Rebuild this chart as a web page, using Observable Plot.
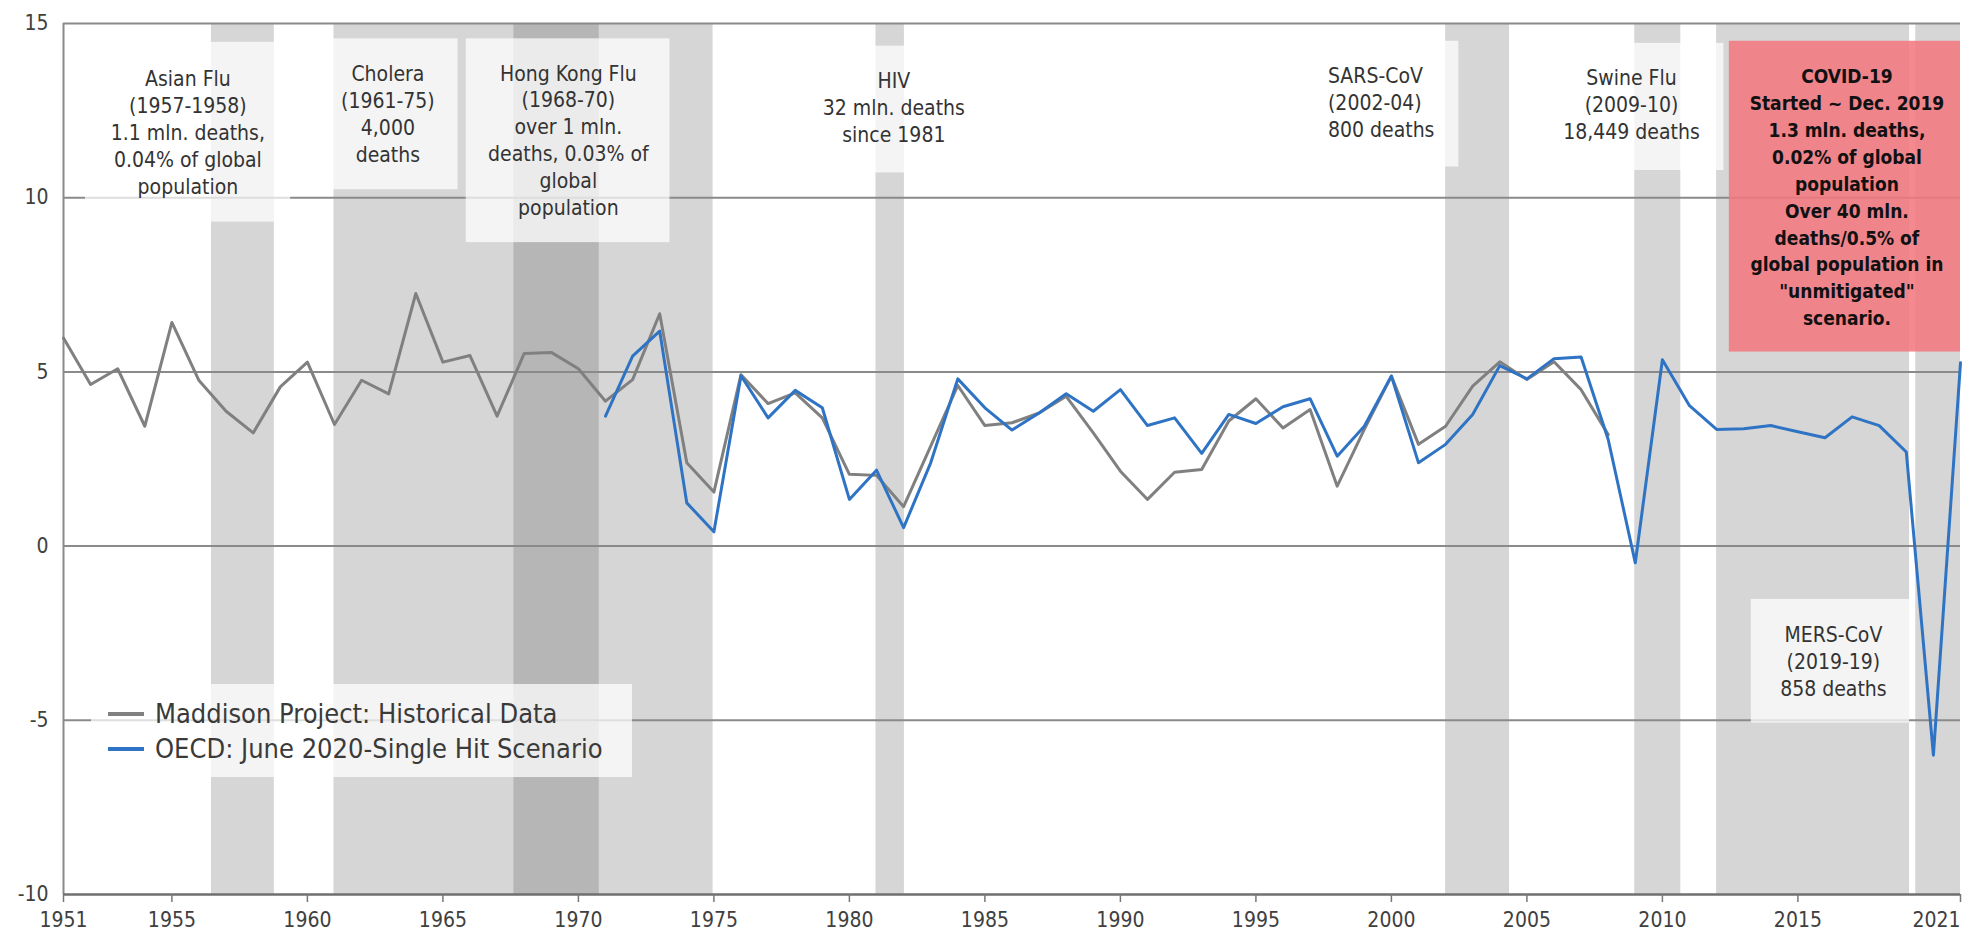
<!DOCTYPE html>
<html>
<head>
<meta charset="utf-8">
<script src="https://cdn.jsdelivr.net/npm/d3@7"></script>
<script src="https://cdn.jsdelivr.net/npm/@observablehq/plot@0.6"></script>
<style>
  html, body { margin: 0; padding: 0; background: #fff; }
  #wrap { position: relative; width: 1962px; height: 933px; font-family: "DejaVu Sans Condensed", "DejaVu Sans", sans-serif; font-stretch: condensed; }
  #legend { position: absolute; left: 91px; top: 684px; width: 541px; height: 93px; background: rgba(255,255,255,0.72); }
  .item { position: absolute; left: 17px; height: 35px; display: flex; align-items: center; font-size: 27px; color: #3a3a3a; white-space: nowrap; }
  .sw { width: 36px; height: 4px; margin-right: 11px; }
</style>
</head>
<body>
<div id="wrap">
  <div id="chart"></div>
  <div id="legend">
    <div class="item" style="top:12px"><span class="sw" style="background:#808080"></span>Maddison Project: Historical Data</div>
    <div class="item" style="top:47px"><span class="sw" style="background:#2f74c4"></span>OECD: June 2020-Single Hit Scenario</div>
  </div>
</div>
<script>
// ---- Data ----
const maddisonStart = 1951;
const maddisonValues = [
  5.97, 4.64, 5.09, 3.44, 6.42, 4.75, 3.87, 3.25, 4.57, 5.28,
  3.49, 4.76, 4.37, 7.25, 5.28, 5.47, 3.73, 5.53, 5.56, 5.09,
  4.16, 4.78, 6.67, 2.39, 1.55, 4.92, 4.09, 4.40, 3.68, 2.06,
  2.03, 1.13, 2.87, 4.61, 3.46, 3.54, 3.82, 4.30, 3.25, 2.15,
  1.34, 2.12, 2.20, 3.59, 4.23, 3.39, 3.92, 1.72, 3.35, 4.88,
  2.92, 3.44, 4.59, 5.29, 4.78, 5.29, 4.49, 3.20
];
const oecdStart = 1971;
const oecdValues = [
  3.73, 5.45, 6.17, 1.24, 0.41, 4.89, 3.68, 4.47, 3.97, 1.34,
  2.18, 0.53, 2.39, 4.80, 3.97, 3.33, 3.82, 4.37, 3.87, 4.49,
  3.46, 3.68, 2.66, 3.78, 3.52, 4.00, 4.23, 2.58, 3.44, 4.88,
  2.39, 2.92, 3.78, 5.18, 4.80, 5.38, 5.43, 3.06, -0.48, 5.35,
  4.03, 3.35, 3.37, 3.46, 3.28, 3.11, 3.71, 3.46, 2.70, -6.00,
  5.26
];
// pandemic shading periods (years)
const bandNames  = ["Asian Flu", "Cholera", "HIV", "SARS-CoV", "Swine Flu", "MERS-CoV", "COVID-19"];
const bandStarts = [1956.46, 1960.98, 1980.98, 2002.0, 2008.98, 2012.0, 2019.35];
const bandEnds   = [1958.78, 1974.97, 1982.03, 2004.36, 2010.68, 2019.12, 2021];
const hkStart = [1967.62];
const hkEnd   = [1970.77];
const yTicks = [-10, -5, 0, 5, 10, 15];
const xTicks = [1951, 1955, 1960, 1965, 1970, 1975, 1980, 1985, 1990, 1995, 2000, 2005, 2010, 2015];
const xLastTick = [2021];
const gridValues = [15, 10, 5, 0, -5];

// annotation label boxes
const boxX1 = [1951.81, 1960.4, 1965.86, 1979.3, 1997.0, 2005.47, 2013.28];
const boxX2 = [1959.38, 1965.56, 1973.38, 1984.0, 2002.49, 2012.27, 2019.12];
const boxY1 = [9.30, 10.23, 8.71, 10.71, 10.88, 10.78, -5.08];
const boxY2 = [14.46, 14.56, 14.56, 14.35, 14.49, 14.43, -1.53];
const covidBox = [{x1: 2012.47, x2: 2021, y1: 5.57, y2: 14.49}];

const labelTexts = [
  "Asian Flu\n(1957-1958)\n1.1 mln. deaths,\n0.04% of global\npopulation",
  "Cholera\n(1961-75)\n4,000\ndeaths",
  "Hong Kong Flu\n(1968-70)\nover 1 mln.\ndeaths, 0.03% of\nglobal\npopulation",
  "HIV\n32 mln. deaths\nsince 1981",
  "Swine Flu\n(2009-10)\n18,449 deaths",
  "MERS-CoV\n(2019-19)\n858 deaths"
];
const labelX = [1955.59, 1962.97, 1969.63, 1981.64, 2008.86, 2016.31];
const labelY = [11.91, 12.44, 11.68, 12.62, 12.70, -3.28];
const sarsLabel = [{x: 1997.66, y: 12.76, text: "SARS-CoV\n(2002-04)\n800 deaths"}];
const covidLabel = [{x: 2016.81, y: 10.06, text: "COVID-19\nStarted ~ Dec. 2019\n1.3 mln. deaths,\n0.02% of global\npopulation\nOver 40 mln.\ndeaths/0.5% of\nglobal population in\n\"unmitigated\"\nscenario."}];

// ---- Build tables ----
const maddison = maddisonValues.map((v, i) => ({year: maddisonStart + i, value: v}));
const oecd = oecdValues.map((v, i) => ({year: oecdStart + i, value: v}));
const bands = bandNames.map((n, i) => ({name: n, start: bandStarts[i], end: bandEnds[i]}));
const hk = hkStart.map((s, i) => ({start: s, end: hkEnd[i]}));
const boxes = boxX1.map((x, i) => ({x1: x, x2: boxX2[i], y1: boxY1[i], y2: boxY2[i]}));
const labels = labelTexts.map((t, i) => ({x: labelX[i], y: labelY[i], text: t}));

const FONT = '"DejaVu Sans Condensed", "DejaVu Sans", sans-serif';

const chart = Plot.plot({
  width: 1962,
  height: 933,
  marginLeft: 63,
  marginRight: 2,
  marginTop: 23,
  marginBottom: 39,
  x: {domain: [1951, 2021], label: null},
  y: {domain: [-10, 15], label: null},
  style: {fontFamily: FONT, fontStretch: "condensed", fontSize: "21px", color: "#404040", background: "#fff", overflow: "visible"},
  marks: [
    Plot.rect(bands, {x1: "start", x2: "end", fill: "#d6d6d6"}),
    Plot.rect(hk, {x1: "start", x2: "end", fill: "#b6b6b6"}),
    Plot.ruleY(gridValues, {stroke: "#8a8a8a", strokeWidth: 2}),
    Plot.ruleX([1951], {stroke: "#8a8a8a", strokeWidth: 2}),
    Plot.rect(boxes, {x1: "x1", x2: "x2", y1: "y1", y2: "y2", fill: "#fff", fillOpacity: 0.72}),
    Plot.rect(covidBox, {x1: "x1", x2: "x2", y1: "y1", y2: "y2", fill: "rgb(242,120,127)", fillOpacity: 0.87}),
    Plot.line(maddison, {x: "year", y: "value", stroke: "#808080", strokeWidth: 3}),
    Plot.line(oecd, {x: "year", y: "value", stroke: "#2f74c4", strokeWidth: 3}),
    Plot.text(labels, {x: "x", y: "y", text: "text", fontSize: 21, lineHeight: 1.28, fill: "#333", textAnchor: "middle", lineAnchor: "middle"}),
    Plot.text(sarsLabel, {x: "x", y: "y", text: "text", fontSize: 21, lineHeight: 1.28, fill: "#333", textAnchor: "start", lineAnchor: "middle"}),
    Plot.text(covidLabel, {x: "x", y: "y", text: "text", fontSize: 19, fontWeight: "bold", lineHeight: 1.415, fill: "#111", textAnchor: "middle", lineAnchor: "middle"}),
    Plot.ruleY([-10], {stroke: "#6f6f6f", strokeWidth: 2.5}),
    Plot.axisY(yTicks, {tickSize: 0, tickPadding: 15, fontSize: 21, label: null, tickFormat: d => String(d)}),
    Plot.axisX(xTicks, {tickSize: 8, tickPadding: 10, fontSize: 21, stroke: "#777", strokeWidth: 1.5, label: null, tickFormat: d => String(d)}),
    Plot.axisX(xLastTick, {tickSize: 8, tickPadding: 10, fontSize: 21, stroke: "#777", strokeWidth: 1.5, label: null, textAnchor: "end", tickFormat: d => String(d)})
  ]
});
document.getElementById("chart").appendChild(chart);
</script>
</body>
</html>
